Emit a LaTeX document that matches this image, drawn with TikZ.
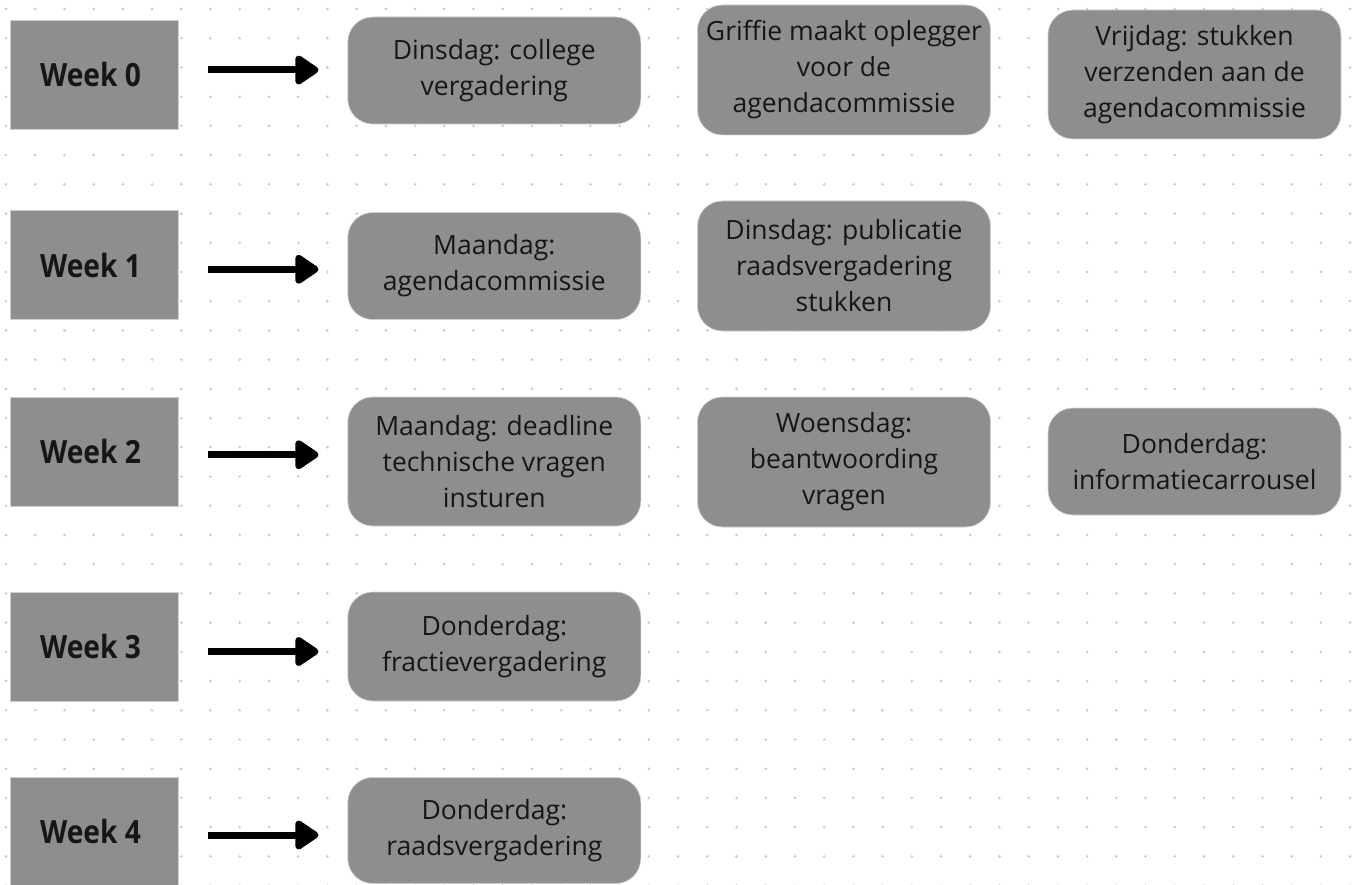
\documentclass[tikz,border=0pt]{standalone}
\usepackage{fontspec}
\setmainfont{Open Sans}
\newfontfamily\weekfont[FakeStretch=0.88]{Open Sans}
\usetikzlibrary{arrows.meta}
\definecolor{boxgray}{RGB}{142,142,142}
\definecolor{boxedge}{RGB}{208,208,208}
\definecolor{dotgray}{RGB}{196,200,212}
\definecolor{ink}{RGB}{22,22,22}
\begin{document}
\begin{tikzpicture}[x=1pt,y=-1pt,
  weekbox/.style={draw=boxedge, line width=1pt, fill=boxgray, minimum width=168pt,
    minimum height=109pt, inner sep=0pt, text=ink,
    font=\weekfont\fontsize{32}{36}\selectfont\bfseries},
  daybox/.style={draw=boxedge, line width=0.6pt, fill=boxgray, rounded corners=25pt,
    minimum width=293pt, inner sep=0pt, align=center, text=ink,
    font=\fontsize{26.5}{36}\selectfont},
  arr/.style={line width=7pt, -{Triangle[length=26pt,width=33pt,round]},
    shorten <=29pt, shorten >=29pt}
]
\useasboundingbox (0,0) rectangle (1357,885);
\fill[white] (0,0) rectangle (1357,885);

% dotted background grid
\foreach \i in {0,...,46}{
  \foreach \j in {0,...,30}{
    \fill[dotgray] (6+29.22*\i, 9+29.22*\j) circle (1.4pt);
  }
}

% week labels
\node[weekbox] (w0) at (94.5,74.7)  {\kern-8pt Week 0};
\node[weekbox] (w1) at (94.5,265.4) {\kern-8pt Week 1};
\node[weekbox] (w2) at (94.5,451.5) {\kern-8pt Week 2};
\node[weekbox] (w3) at (94.5,646.5) {\kern-8pt Week 3};
\node[weekbox] (w4) at (94.5,831.5) {\kern-8pt Week 4};

% first column of activities
\node[daybox, minimum height=107pt] (d0) at (494.3,70.5)  {Dinsdag: college\\vergadering};
\node[daybox, minimum height=107pt] (d1) at (494.3,266)   {Maandag:\\agendacommissie};
\node[daybox, minimum height=129pt] (d2) at (494.3,461.5) {Maandag: deadline\\technische vragen\\insturen};
\node[daybox, minimum height=109pt] (d3) at (494.3,646.5) {Donderdag:\\fractievergadering};
\node[daybox, minimum height=106pt] (d4) at (494.3,830.5) {Donderdag:\\raadsvergadering};

% second column
\node[daybox, minimum height=130pt] (g0) at (844,70)  {Griffie maakt oplegger\\voor de\\agendacommissie};
\node[daybox, minimum height=130pt] (g1) at (844,266) {Dinsdag: publicatie\\raadsvergadering\\stukken};
\node[daybox, minimum height=130pt] (g2) at (844,462) {Woensdag:\\beantwoording\\vragen};

% third column
\node[daybox, minimum height=129pt] (v0) at (1194.5,74.5)  {Vrijdag: stukken\\verzenden aan de\\agendacommissie};
\node[daybox, minimum height=107pt] (v2) at (1194.5,461.5) {Donderdag:\\informatiecarrousel};

% arrows from each week to its first activity
\draw[arr] ([yshift=4.7pt]w0.east)  -- ([yshift=4.7pt]w0.east -| d0.west);
\draw[arr] ([yshift=-3.9pt]w1.east) -- ([yshift=-3.9pt]w1.east -| d1.west);
\draw[arr] ([yshift=-3.2pt]w2.east) -- ([yshift=-3.2pt]w2.east -| d2.west);
\draw[arr] ([yshift=-5pt]w3.east)   -- ([yshift=-5pt]w3.east -| d3.west);
\draw[arr] ([yshift=-3.5pt]w4.east) -- ([yshift=-3.5pt]w4.east -| d4.west);
\end{tikzpicture}
\end{document}
